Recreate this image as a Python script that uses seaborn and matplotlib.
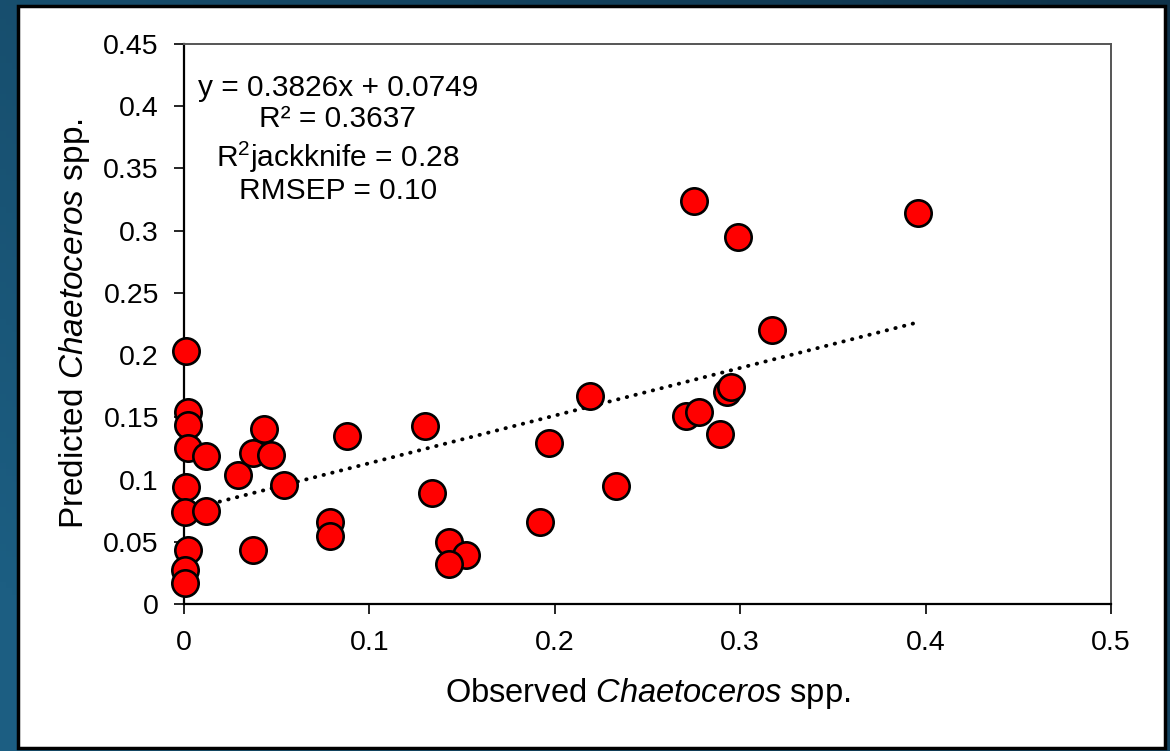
import numpy as np
import pandas as pd
import matplotlib
matplotlib.use("Agg")
import matplotlib.pyplot as plt
from matplotlib.patches import Rectangle
from matplotlib.colors import to_rgb
import seaborn as sns

# ---- data ----
observed = [0.001, 0.002, 0.002, 0.002, 0.012, 0.001, 0.0005, 0.012, 0.002, 0.0005,
            0.0005, 0.029, 0.037, 0.043, 0.047, 0.037, 0.054, 0.079, 0.079, 0.088,
            0.130, 0.134, 0.143, 0.152, 0.143, 0.192, 0.197, 0.219, 0.233, 0.271,
            0.278, 0.289, 0.293, 0.295, 0.275, 0.299, 0.317, 0.396]
predicted = [0.203, 0.154, 0.144, 0.125, 0.119, 0.094, 0.074, 0.075, 0.043, 0.027,
             0.017, 0.104, 0.121, 0.141, 0.120, 0.043, 0.096, 0.066, 0.055, 0.135,
             0.143, 0.089, 0.050, 0.039, 0.032, 0.066, 0.129, 0.167, 0.095, 0.151,
             0.154, 0.137, 0.170, 0.174, 0.324, 0.295, 0.220, 0.314]
slope = 0.3826
intercept = 0.0749
x_ticks = [0, 0.1, 0.2, 0.3, 0.4, 0.5]
x_tick_labels = ["0", "0.1", "0.2", "0.3", "0.4", "0.5"]
y_ticks = [0, 0.05, 0.1, 0.15, 0.2, 0.25, 0.3, 0.35, 0.4, 0.45]
y_tick_labels = ["0", "0.05", "0.1", "0.15", "0.2", "0.25", "0.3", "0.35", "0.4", "0.45"]
stats_lines = ["y = 0.3826x + 0.0749", "R² = 0.3637",
               r"R$^{2}$jackknife = 0.28", "RMSEP = 0.10"]

sns.set_theme(style="white")
plt.rcParams["font.family"] = ["Liberation Sans", "DejaVu Sans"]
plt.rcParams["mathtext.fontset"] = "custom"
plt.rcParams["mathtext.rm"] = "Liberation Sans"
plt.rcParams["mathtext.it"] = "Liberation Sans:italic"
plt.rcParams["text.color"] = "black"
plt.rcParams["axes.labelcolor"] = "black"

df = pd.DataFrame({"obs": observed, "pred": predicted})

fig = plt.figure(figsize=(11.7, 7.51), dpi=100)
fig.patch.set_facecolor("#143f58")

# gradient background (decorative)
bg = fig.add_axes([0, 0, 1, 1], zorder=-20)
bg.set_axis_off()
gx, gy = np.meshgrid(np.linspace(0, 1, 200), np.linspace(0, 1, 120))
t = np.clip(0.65 * (1 - gx) + 0.45 * gy, 0, 1)[..., None]
c_dark = np.array(to_rgb("#0e3249"))
c_light = np.array(to_rgb("#1c5e82"))
bg.imshow(c_dark * (1 - t) + c_light * t, aspect="auto", extent=[0, 1, 0, 1],
          origin="upper")
bg.set_xlim(0, 1)
bg.set_ylim(0, 1)
# white panel with black border
bg.add_patch(Rectangle((17.5 / 1170, 3 / 751), 1147 / 1170, 742 / 751,
                       transform=bg.transAxes, facecolor="white",
                       edgecolor="black", linewidth=2.5, zorder=2))

ax = fig.add_axes([184 / 1170, (751 - 604) / 751, (1111 - 184) / 1170, (604 - 44) / 751])
ax.set_zorder(5)
ax.set_facecolor("white")

# trendline
x_line = np.array([min(observed), max(observed)])
line_df = pd.DataFrame({"x": x_line, "y": slope * x_line + intercept})
sns.lineplot(data=line_df, x="x", y="y", ax=ax, color="black", lw=2.8,
             linestyle=(0, (0.1, 2.2)), zorder=2)
ax.lines[-1].set_dash_capstyle("round")

sns.scatterplot(data=df, x="obs", y="pred", ax=ax, s=360, color="#ff0000",
                edgecolor="black", linewidth=1.9, zorder=3, clip_on=False)

ax.set_xlim(0, 0.5)
ax.set_ylim(0, 0.45)
ax.set_xticks(x_ticks)
ax.set_xticklabels(x_tick_labels)
ax.set_yticks(y_ticks)
ax.set_yticklabels(y_tick_labels)
ax.tick_params(axis="both", which="major", direction="out", length=7, width=1.2,
               labelsize=20.5, colors="black", left=True, bottom=True)
ax.tick_params(axis="y", pad=11)
ax.tick_params(axis="x", pad=12)

for side in ["left", "bottom"]:
    ax.spines[side].set_color("black")
    ax.spines[side].set_linewidth(1.6)
for side in ["top", "right"]:
    ax.spines[side].set_color("#555555")
    ax.spines[side].set_linewidth(1.4)
    ax.spines[side].set_visible(True)

ax.set_xlabel(r"Observed $\mathit{Chaetoceros}$ spp.", fontsize=23.5, labelpad=14,
              color="black")
ax.set_ylabel(r"Predicted $\mathit{Chaetoceros}$ spp.", fontsize=24, labelpad=8,
              color="black")

ys = [0.4145, 0.3895, 0.3590, 0.3315]
for txt, yv in zip(stats_lines, ys):
    ax.text(0.083, yv, txt, fontsize=21.5, ha="center", va="center", color="black")

fig.savefig("out.png", dpi=100, facecolor=fig.get_facecolor())
